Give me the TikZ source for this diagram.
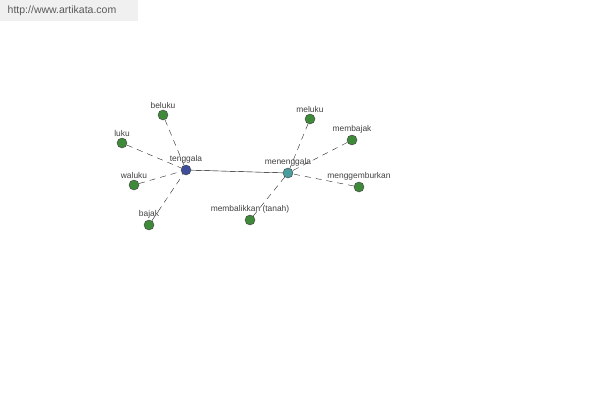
\documentclass[tikz,border=0pt]{standalone}
\usepackage{fontspec}
\setmainfont{Liberation Sans}
\definecolor{leaf}{HTML}{3F8A3A}
\definecolor{root}{HTML}{3E4E98}
\definecolor{verb}{HTML}{4C9C9E}
\tikzset{
  dot/.style={circle, draw=black!75, fill=leaf, minimum size=10pt, inner sep=0pt,
    label={[font=\fontsize{8.4}{9}\selectfont, text=black!75, inner sep=1.5pt]above:#1}},
  rel/.style={dash pattern=on 6pt off 5pt, black!85, thin}
}
\begin{document}
\begin{tikzpicture}[x=1pt, y=-1pt]
\useasboundingbox[fill=white] (0,0) rectangle (600,400);
\fill[black!6] (0,0) rectangle (138,21);
\node at (62,11) (site) {\fontsize{10.5}{11}\selectfont\color{black!65}http://www.artikata.com};
\node[dot=tenggala, fill=root] at (186,170) (tenggala) {};
\node[dot=beluku] at (163,115) (beluku) {};
\node[dot=luku] at (122,143) (luku) {};
\node[dot=waluku] at (134,185) (waluku) {};
\node[dot=bajak] at (149,225) (bajak) {};
\node[dot=menenggala, fill=verb] at (288,173) (menenggala) {};
\node[dot=meluku] at (310,119) (meluku) {};
\node[dot=membajak] at (352,140) (membajak) {};
\node[dot=menggemburkan] at (359,187) (menggemburkan) {};
\node[dot={membalikkan (tanah)}] at (250,220) (membalikkan) {};
\draw (tenggala) -- (menenggala);
\draw[rel] (beluku) -- (tenggala);
\draw[rel] (luku) -- (tenggala);
\draw[rel] (waluku) -- (tenggala);
\draw[rel] (bajak) -- (tenggala);
\draw[rel] (meluku) -- (menenggala);
\draw[rel] (membajak) -- (menenggala);
\draw[rel] (menggemburkan) -- (menenggala);
\draw[rel] (membalikkan) -- (menenggala);
\end{tikzpicture}
\end{document}
